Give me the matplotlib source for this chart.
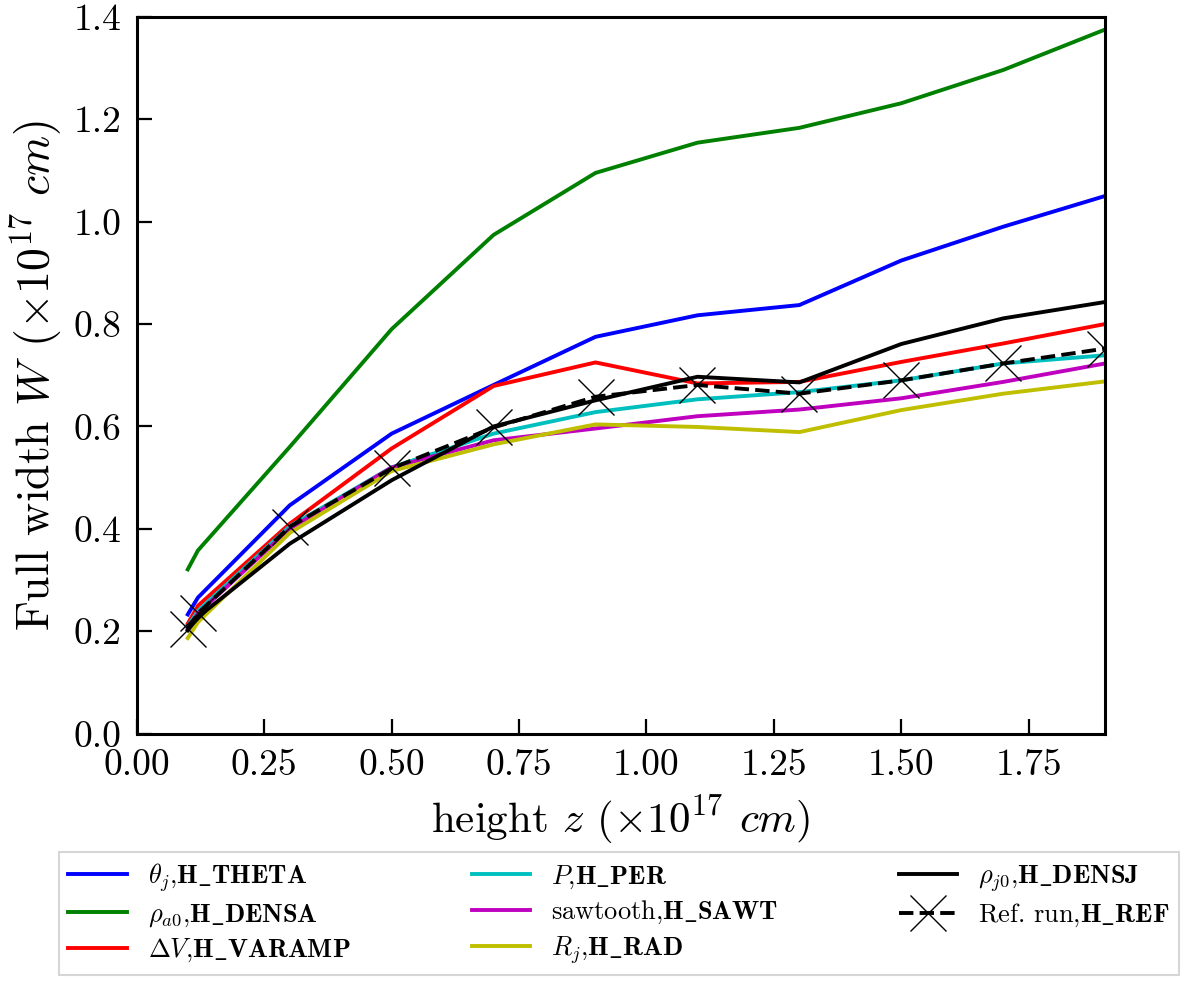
import numpy as np
import matplotlib
matplotlib.use('Agg')
import matplotlib.pyplot as plt

plt.rcParams['font.family'] = 'serif'
plt.rcParams['font.serif'] = ['cmr10']
plt.rcParams['mathtext.fontset'] = 'cm'
plt.rcParams['axes.formatter.use_mathtext'] = True

# heights (x 1e17 cm)
z = np.array([0.10, 0.12, 0.30, 0.50, 0.70, 0.90, 1.10, 1.30, 1.50, 1.70, 1.90])

# full width W (x 1e17 cm) for each run
w_theta  = [0.233, 0.266, 0.446, 0.586, 0.681, 0.775, 0.817, 0.837, 0.924, 0.990, 1.050]
w_densa  = [0.321, 0.358, 0.560, 0.790, 0.974, 1.095, 1.154, 1.183, 1.231, 1.296, 1.375]
w_varamp = [0.215, 0.250, 0.410, 0.557, 0.679, 0.725, 0.684, 0.687, 0.726, 0.762, 0.800]
w_per    = [0.210, 0.240, 0.405, 0.520, 0.586, 0.628, 0.653, 0.667, 0.690, 0.723, 0.739]
w_sawt   = [0.205, 0.235, 0.400, 0.520, 0.573, 0.596, 0.620, 0.633, 0.655, 0.687, 0.723]
w_rad    = [0.187, 0.218, 0.392, 0.513, 0.565, 0.604, 0.599, 0.589, 0.632, 0.664, 0.688]
w_densj  = [0.202, 0.228, 0.371, 0.495, 0.600, 0.651, 0.697, 0.686, 0.761, 0.811, 0.843]
w_ref    = [0.205, 0.235, 0.404, 0.518, 0.598, 0.658, 0.681, 0.664, 0.690, 0.723, 0.752]

labels = [r'$\theta_j$,$\mathbf{H\_THETA}$',
          r'$\rho_{a0}$,$\mathbf{H\_DENSA}$',
          r'$\Delta V$,$\mathbf{H\_VARAMP}$',
          r'$P$,$\mathbf{H\_PER}$',
          r'sawtooth,$\mathbf{H\_SAWT}$',
          r'$R_j$,$\mathbf{H\_RAD}$',
          r'$\rho_{j0}$,$\mathbf{H\_DENSJ}$',
          r'Ref. run,$\mathbf{H\_REF}$']

fig = plt.figure(figsize=(12, 9.81), dpi=100)
ax = fig.add_axes([0.114, 0.252, 0.807, 0.731])

lw = 2.8
ax.plot(z, w_theta, color='b', lw=lw, label=labels[0])
ax.plot(z, w_densa, color='g', lw=lw, label=labels[1])
ax.plot(z, w_varamp, color='r', lw=lw, label=labels[2])
ax.plot(z, w_per, color='c', lw=lw, label=labels[3])
ax.plot(z, w_sawt, color='m', lw=lw, label=labels[4])
ax.plot(z, w_rad, color='y', lw=lw, label=labels[5])
ax.plot(z, w_densj, color='k', lw=lw, label=labels[6])
ax.plot(z, w_ref, color='k', ls='--', lw=lw, marker='x', ms=26, mew=1.0,
        label=labels[7])

ax.set_xlim(0.0, 1.9)
ax.set_ylim(0.0, 1.4)
ax.set_xticks(np.arange(0, 1.76, 0.25))
ax.set_yticks(np.arange(0, 1.41, 0.2))
ax.xaxis.set_major_formatter(matplotlib.ticker.FormatStrFormatter('%.2f'))
ax.yaxis.set_major_formatter(matplotlib.ticker.FormatStrFormatter('%.1f'))
ax.tick_params(direction='in', length=11, width=1.6, labelsize=27)
ax.tick_params(axis='x', pad=11)
ax.tick_params(axis='y', pad=11)
for sp in ax.spines.values():
    sp.set_linewidth(2.2)

ax.set_xlabel(r'height $z$ ($\times10^{17}$ $cm$)', fontsize=31, labelpad=8)
ax.set_ylabel(r'Full width $W$ ($\times10^{17}$ $cm$)', fontsize=33, labelpad=6)

leg = ax.legend(loc='lower center', bbox_to_anchor=(0.516, 0.006),
                bbox_transform=fig.transFigure, ncol=3, fontsize=19,
                fancybox=False, edgecolor='0.8', handlelength=2.2,
                handletextpad=0.8, columnspacing=4.6, labelspacing=0.3,
                borderpad=0.35, borderaxespad=0.0)
leg.get_frame().set_linewidth(1.5)

fig.savefig('out.png', dpi=100)
